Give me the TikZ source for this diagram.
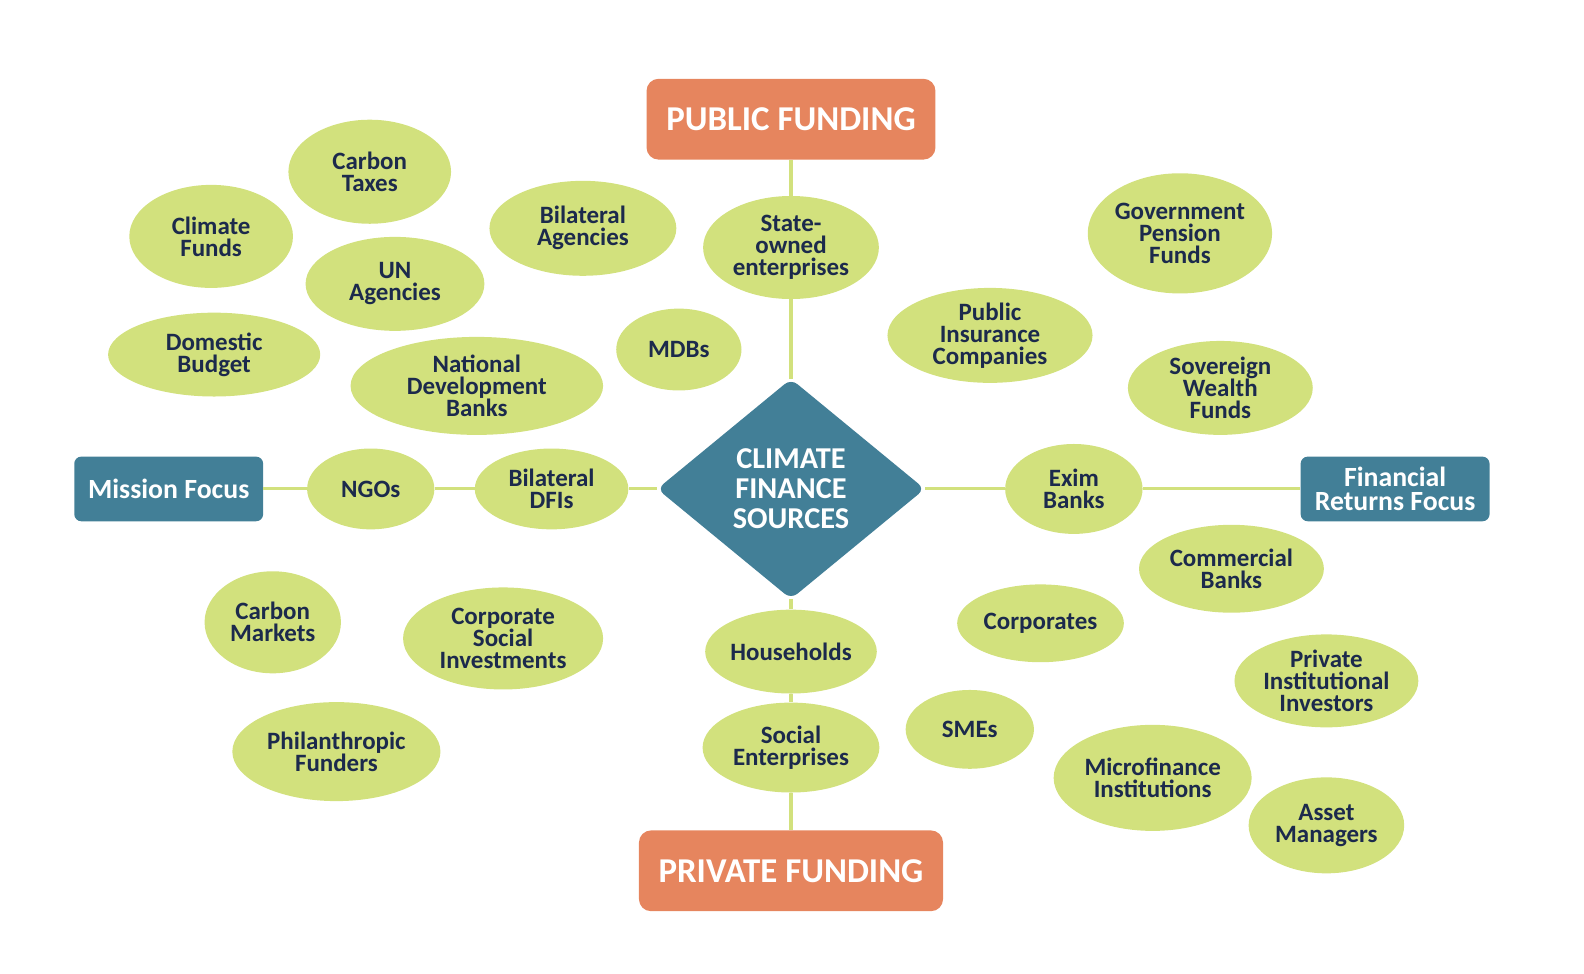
\documentclass[tikz,border=0pt]{standalone}
\usepackage{fontspec}
\setmainfont{Carlito}
\usepackage{tikz}
\usetikzlibrary{shapes.geometric}
\definecolor{leaf}{HTML}{D2E17D}
\definecolor{rust}{HTML}{E6855E}
\definecolor{teal}{HTML}{427F97}
\definecolor{ink}{HTML}{1C2A4C}
\tikzset{blob/.style={ellipse,fill=leaf,inner sep=0pt,align=center,text=ink,
		font=\fontsize{24.7}{21.8}\selectfont\bfseries},
	 fund/.style={rectangle,rounded corners=12pt,fill=rust,text=white,
		minimum width=286,minimum height=80,font=\fontsize{34.5}{36}\selectfont\bfseries},
	 focus/.style={rectangle,rounded corners=7pt,fill=teal,text=white,align=center,
		minimum width=187,minimum height=64,font=\fontsize{27.5}{23.5}\selectfont\bfseries},
	 link/.style={draw=leaf,line width=3pt}
	 }

\begin{document}
\begin{tikzpicture}[x=1pt,y=-1pt]
	\useasboundingbox (0,0) rectangle (1568,964);

	\node[diamond,fill=teal,rounded corners=8pt,inner sep=0pt,minimum width=265,minimum height=218,
		align=center,text=white,font=\fontsize{30}{29.7}\selectfont\bfseries] (dia) at (783,484)
		{CLIMATE\\FINANCE\\SOURCES};
	\node[fund] (pub) at (783,118) {PUBLIC FUNDING};
	\node[fund,minimum width=301] (pri) at (783,862) {PRIVATE FUNDING};
	\node[focus] (mis) at (167,484) {Mission Focus};
	\node[focus] (fin) at (1381,484) {Financial\\Returns Focus};

	% public side
	\node[blob,minimum width=161,minimum height=103] (cbt) at (366,170) {Carbon\\Taxes};
	\node[blob,minimum width=162,minimum height=102] (clf) at (209,234) {Climate\\Funds};
	\node[blob,minimum width=177,minimum height=93] (una) at (391,281) {UN\\Agencies};
	\node[blob,minimum width=185,minimum height=94] (bia) at (577,226) {Bilateral\\Agencies};
	\node[blob,minimum width=174,minimum height=102] (soe) at (783,245) {State-\\owned\\enterprises};
	\node[blob,minimum width=210,minimum height=83] (dom) at (212,351) {Domestic\\Budget};
	\node[blob,minimum width=250,minimum height=97] (ndb) at (472,382) {National\\Development\\Banks};
	\node[blob,minimum width=124,minimum height=81] (mdb) at (672,346) {MDBs};
	\node[blob,minimum width=182,minimum height=119] (gpf) at (1168,231) {Government\\Pension\\Funds};
	\node[blob,minimum width=203,minimum height=94] (pic) at (980,332) {Public\\Insurance\\Companies};
	\node[blob,minimum width=183,minimum height=93] (swf) at (1208,384) {Sovereign\\Wealth\\Funds};

	% middle row
	\node[blob,minimum width=126,minimum height=80] (ngo) at (367,484) {NGOs};
	\node[blob,minimum width=152,minimum height=80] (dfi) at (546,484) {Bilateral\\DFIs};
	\node[blob,minimum width=136,minimum height=89] (exim) at (1063,484) {Exim\\Banks};

	% private side
	\node[blob,minimum width=183,minimum height=87] (cob) at (1219,563) {Commercial\\Banks};
	\node[blob,minimum width=165,minimum height=77] (cor) at (1030,617) {Corporates};
	\node[blob,minimum width=169,minimum height=83] (hh) at (783,645) {Households};
	\node[blob,minimum width=135,minimum height=101] (cbm) at (270,616) {Carbon\\Markets};
	\node[blob,minimum width=198,minimum height=101] (csi) at (498,632) {Corporate\\Social\\Investments};
	\node[blob,minimum width=182,minimum height=92] (pii) at (1313,674) {Private\\Institutional\\Investors};
	\node[blob,minimum width=127,minimum height=78] (sme) at (960,722) {SMEs};
	\node[blob,minimum width=175,minimum height=89] (soc) at (783,740) {Social\\Enterprises};
	\node[blob,minimum width=206,minimum height=98] (phf) at (333,744) {Philanthropic\\Funders};
	\node[blob,minimum width=196,minimum height=105] (mfi) at (1141,770) {Microfinance\\Institutions};
	\node[blob,minimum width=154,minimum height=95] (asm) at (1313,817) {Asset\\Managers};

	\draw[link] (pub) -- (soe); \draw[link] (soe) -- (dia);
	\draw[link] (dia) -- (hh); \draw[link] (hh) -- (soc); \draw[link] (soc) -- (pri);
	\draw[link] (mis) -- (ngo); \draw[link] (ngo) -- (dfi); \draw[link] (dfi) -- (dia);
	\draw[link] (dia) -- (exim); \draw[link] (exim) -- (fin);
\end{tikzpicture}
\end{document}
